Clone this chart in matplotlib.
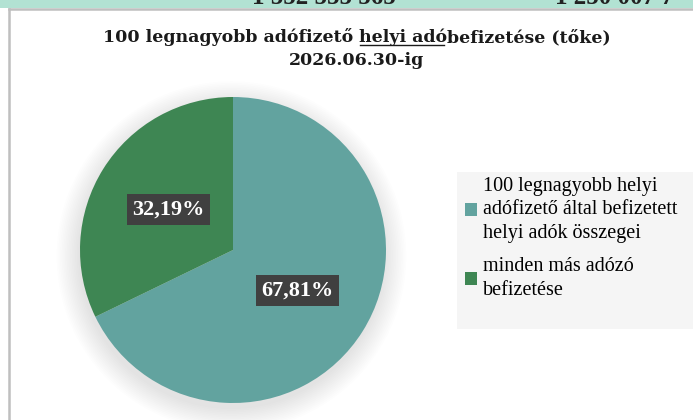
import matplotlib.pyplot as plt
from matplotlib.patches import Circle, Rectangle
from matplotlib.lines import Line2D

# adatok
labels = ['100 legnagyobb helyi\nadófizető által befizetett\nhelyi adók összegei',
          'minden más adózó\nbefizetése']
values = [67.81, 32.19]
colors = ['#62a39f', '#3e8653']
title_pre = '100 legnagyobb adófizető '
title_ul = 'helyi adó'
title_post = 'befizetése (tőke)'
title_line2 = '2026.06.30-ig'
top_numbers = ['1 552 555 565', '1 250 007 7']

W, H = 693, 420
fig = plt.figure(figsize=(W / 100, H / 100), dpi=100)
fig.patch.set_facecolor('white')
serif = ['Liberation Serif', 'DejaVu Serif']
tserif = ['DejaVu Serif']

# felső sáv (levágott táblázat)
fig.add_artist(Rectangle((0, 1 - 8 / H), 1, 8 / H, transform=fig.transFigure,
                         fc='#b2e2d3', ec='none'))
for xp, s in zip([252 / W, 555 / W], top_numbers):
    fig.text(xp, 1 - 4 / H, s, fontsize=18, fontweight='bold', family=serif,
             va='baseline', ha='left', color='#222222')
fig.add_artist(Line2D([9 / W, 1], [1 - 9 / H, 1 - 9 / H], transform=fig.transFigure,
                      color='#bfbfbf', lw=1.8))
fig.add_artist(Line2D([9 / W, 9 / W], [0, 1 - 9 / H], transform=fig.transFigure,
                      color='#bfbfbf', lw=1.8))

# cím
fs_title = 12.5
r = fig.canvas.get_renderer()
parts = [title_pre, title_ul, title_post]
widths = []
for p in parts:
    t = fig.text(0, 0, p.replace(' ', '\u00a0'), fontsize=fs_title, fontweight='bold', family=tserif)
    widths.append(t.get_window_extent(r).width)
    t.remove()
total = sum(widths)
x0 = 357 - total / 2
y_t = H - 42
x = x0
for p, w in zip(parts, widths):
    fig.text(x / W, y_t / H, p.replace(' ', '\u00a0'), fontsize=fs_title, fontweight='bold',
             family=tserif, va='baseline', ha='left', color='#1a1a1a')
    x += w
ux = x0 + widths[0]
fig.add_artist(Line2D([(ux + 1) / W, (ux + widths[1] - 3) / W], [(y_t - 3) / H, (y_t - 3) / H],
                      transform=fig.transFigure, color='#1a1a1a', lw=1))
fig.text(357 / W, (H - 65) / H, title_line2, fontsize=fs_title, fontweight='bold',
         family=tserif, va='baseline', ha='center', color='#1a1a1a')

# kördiagram
cx, cy, rad = 233, 250, 153
ax = fig.add_axes([(cx - rad) / W, (H - cy - rad) / H, 2 * rad / W, 2 * rad / H])
ax.set_xlim(-1, 1)
ax.set_ylim(-1, 1)
ax.set_aspect('equal')
ax.axis('off')
for k in range(14):
    ax.add_patch(Circle((-0.01, -0.04), 1 + 0.011 * k, fc='#000000', ec='none',
                        alpha=0.009, zorder=0, clip_on=False))
wedges, texts, autotexts = ax.pie(values, colors=colors, startangle=90, counterclock=False,
                                  autopct=lambda p: f'{p:.2f}%'.replace('.', ','),
                                  pctdistance=0.5, radius=1,
                                  wedgeprops=dict(linewidth=0, zorder=2))
for t in autotexts:
    t.set_color('white')
    t.set_fontsize(16)
    t.set_fontweight('bold')
    t.set_family(serif)
    t.set_bbox(dict(boxstyle='square,pad=0.24', fc='#404040', ec='none'))
ax.set_xlim(-1, 1)
ax.set_ylim(-1, 1)

# jelmagyarázat
fig.add_artist(Rectangle((457 / W, (H - 329) / H), (W - 457) / W, 157 / H,
                         transform=fig.transFigure, fc='#f5f5f5', ec='none'))
leg = fig.legend(wedges, labels, loc='upper left', bbox_to_anchor=(465 / W, (H - 177) / H),
                 frameon=False, prop=dict(family=serif, size=14.5), handlelength=0.6,
                 handleheight=0.6, handletextpad=0.3, labelspacing=0.7,
                 borderaxespad=0, borderpad=0)
for t in leg.get_texts():
    t.set_linespacing(1.32)

fig.savefig('out.png', dpi=100)
